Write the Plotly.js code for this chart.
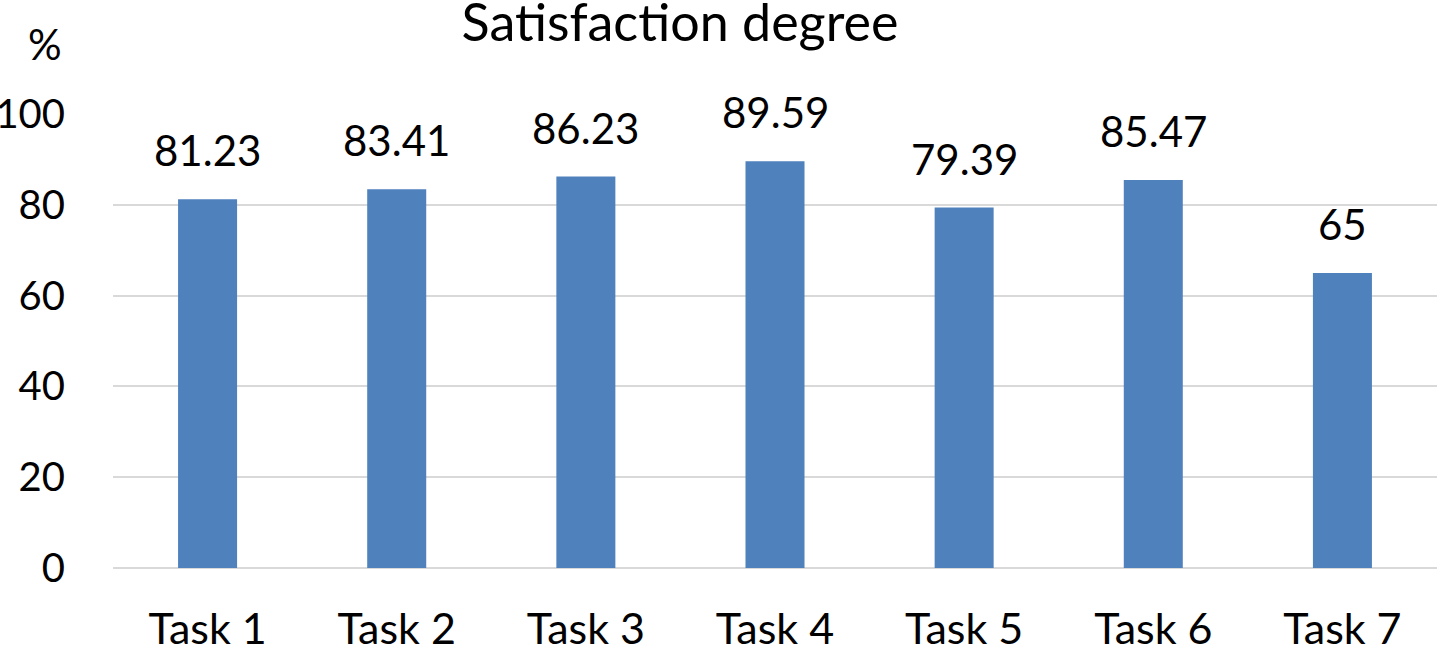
<!DOCTYPE html>
<html>
<head>
<meta charset="utf-8">
<script src="https://cdn.plot.ly/plotly-3.0.1.min.js"></script>
<style>html,body{margin:0;padding:0;background:#fff;}#chart{width:1437px;height:645px;}</style>
</head>
<body>
<div id="chart"></div>
<script>
const categories = ["Task 1", "Task 2", "Task 3", "Task 4", "Task 5", "Task 6", "Task 7"];
const satisfaction = [81.23, 83.41, 86.23, 89.59, 79.39, 85.47, 65];
const valueLabels = ["81.23", "83.41", "86.23", "89.59", "79.39", "85.47", "65"];
const yTicks = [0, 20, 40, 60, 80, 100];

const FONT = "Lato, 'Open Sans', sans-serif";
const FS = 42;

const trace = {
  type: "bar",
  x: categories,
  y: satisfaction,
  marker: {color: "#4f81bd", line: {width: 0}},
  hoverinfo: "x+y"
};

const annotations = categories.map((c, i) => ({
  x: c, y: satisfaction[i], xref: "x", yref: "y",
  text: valueLabels[i], showarrow: false,
  xanchor: "center", yanchor: "bottom", yshift: 22,
  font: {family: FONT, size: FS, color: "#000"}
}));
annotations.push({
  x: -0.0514, y: 1.154, xref: "paper", yref: "paper",
  text: "%", showarrow: false, xanchor: "center", yanchor: "middle",
  font: {family: FONT, size: FS, color: "#000"}
});

const layout = {
  width: 1437, height: 645,
  margin: {l: 113, r: 0, t: 114, b: 77, pad: 0},
  paper_bgcolor: "#fff", plot_bgcolor: "#fff",
  showlegend: false,
  bargap: 0.688,
  font: {family: FONT, size: FS, color: "#000"},
  title: {
    text: "Satisfaction degree",
    x: 680 / 1437, xref: "container", xanchor: "center",
    y: 1 - 23 / 645, yref: "container", yanchor: "middle",
    font: {family: FONT, size: 52, color: "#000"}
  },
  xaxis: {
    type: "category",
    showgrid: false, zeroline: false, showline: false,
    ticks: "outside", ticklen: 23, tickcolor: "rgba(0,0,0,0)",
    tickfont: {family: FONT, size: 43, color: "#000"}
  },
  yaxis: {
    range: [0, 100], tickvals: yTicks, ticktext: yTicks.map(String),
    showgrid: true, gridcolor: "#d9d9d9", gridwidth: 2,
    zeroline: true, zerolinecolor: "#d9d9d9", zerolinewidth: 2,
    showline: false,
    ticks: "outside", ticklen: 39, tickcolor: "rgba(0,0,0,0)",
    tickfont: {family: FONT, size: 40, color: "#000"}
  },
  annotations: annotations
};

Plotly.newPlot("chart", [trace], layout, {displayModeBar: false, staticPlot: true});
</script>
</body>
</html>
